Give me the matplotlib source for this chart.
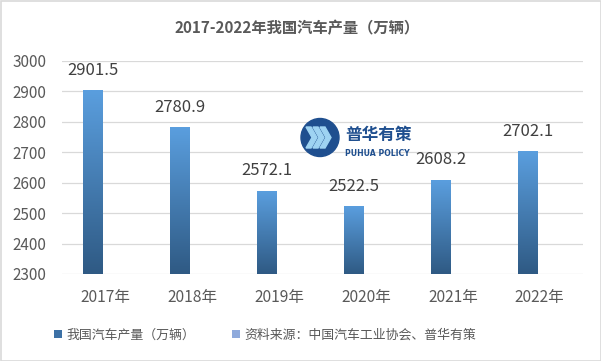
import numpy as np
import matplotlib.pyplot as plt
from matplotlib.patches import Patch, Circle, Rectangle, Polygon
from matplotlib.colors import LinearSegmentedColormap

plt.rcParams['font.family'] = ['Noto Sans CJK SC', 'DejaVu Sans']

title = '2017-2022年我国汽车产量（万辆）'
years = ['2017年', '2018年', '2019年', '2020年', '2021年', '2022年']
output = [2901.5, 2780.9, 2572.1, 2522.5, 2608.2, 2702.1]
yticks = [2300, 2400, 2500, 2600, 2700, 2800, 2900, 3000]
series_name = '我国汽车产量（万辆）'
source_name = '资料来源：中国汽车工业协会、普华有策'

txt = '#595959'
grad = LinearSegmentedColormap.from_list('g', ['#2f5a84', '#5a9ede'])

fig = plt.figure(figsize=(6.01, 3.61), dpi=100)
ax = fig.add_axes([0.1032, 0.241, 0.867, 0.591])

x = np.arange(len(years))
off = -0.14
w = 0.23
ymin = yticks[0]
for xi, v in zip(x, output):
    g = np.linspace(1, 0, 100).reshape(-1, 1)
    ax.imshow(g, cmap=grad, extent=(xi + off - w/2, xi + off + w/2, ymin, v),
              aspect='auto', zorder=2, interpolation='bilinear')
    ax.annotate(f'{v:.1f}', (xi + off, v), xytext=(0, 14.5), textcoords='offset points',
                ha='center', va='center', fontsize=12, color='#404040')

ax.set_xlim(-0.5, len(years) - 0.5)
ax.set_ylim(yticks[0], yticks[-1])
ax.set_xticks(x)
ax.set_xticklabels(years, fontsize=11.2, color=txt)
ax.set_yticks(yticks)
ax.set_yticklabels([str(t) for t in yticks], fontsize=11, color=txt)
ax.tick_params(length=0)
ax.tick_params(axis='x', pad=11)
ax.tick_params(axis='y', pad=11)
ax.grid(axis='y', color='#d9d9d9', lw=0.9)
ax.set_axisbelow(True)
for s in ax.spines.values():
    s.set_visible(False)

fig.text(0.495, 0.922, title, ha='center', va='center', fontsize=11,
         fontweight='bold', color=txt)

handles = [Patch(facecolor='#3d71a6'), Patch(facecolor='#8faadc')]
fig.legend(handles, [series_name, source_name], loc='center', bbox_to_anchor=(0.441, 0.072),
           ncol=2, frameon=False, fontsize=9.3, labelcolor=txt, handlelength=0.6,
           handleheight=0.6, handletextpad=0.3, columnspacing=2.9)

# logo
lax = fig.add_axes([0, 0, 1, 1], facecolor='none')
lax.set_xlim(0, 601)
lax.set_ylim(361, 0)
lax.axis('off')
lax.add_patch(Circle((320, 137.5), 19, color='#1f4f8f', zorder=5))
for dx in (-7, 0, 7):
    cx = 318 + dx
    lax.add_patch(Polygon([(cx - 5, 127), (cx, 127), (cx + 6, 137.5), (cx, 148), (cx - 5, 148), (cx + 1, 137.5)],
                          closed=True, color='#9ed3f2', zorder=6))
lax.text(345, 135, '普华有策', fontsize=12, fontweight='bold', color='#1f4f8f', va='center', ha='left')
lax.text(345, 153, 'PUHUA POLICY', fontsize=5.6, fontweight='bold', color='#1f4f8f', va='center', ha='left',
         family='DejaVu Sans')

lax.add_patch(Rectangle((0.5, 0.5), 600, 360, fill=False, edgecolor='#d9d9d9', lw=1.2))

fig.savefig('out.png', dpi=100)
